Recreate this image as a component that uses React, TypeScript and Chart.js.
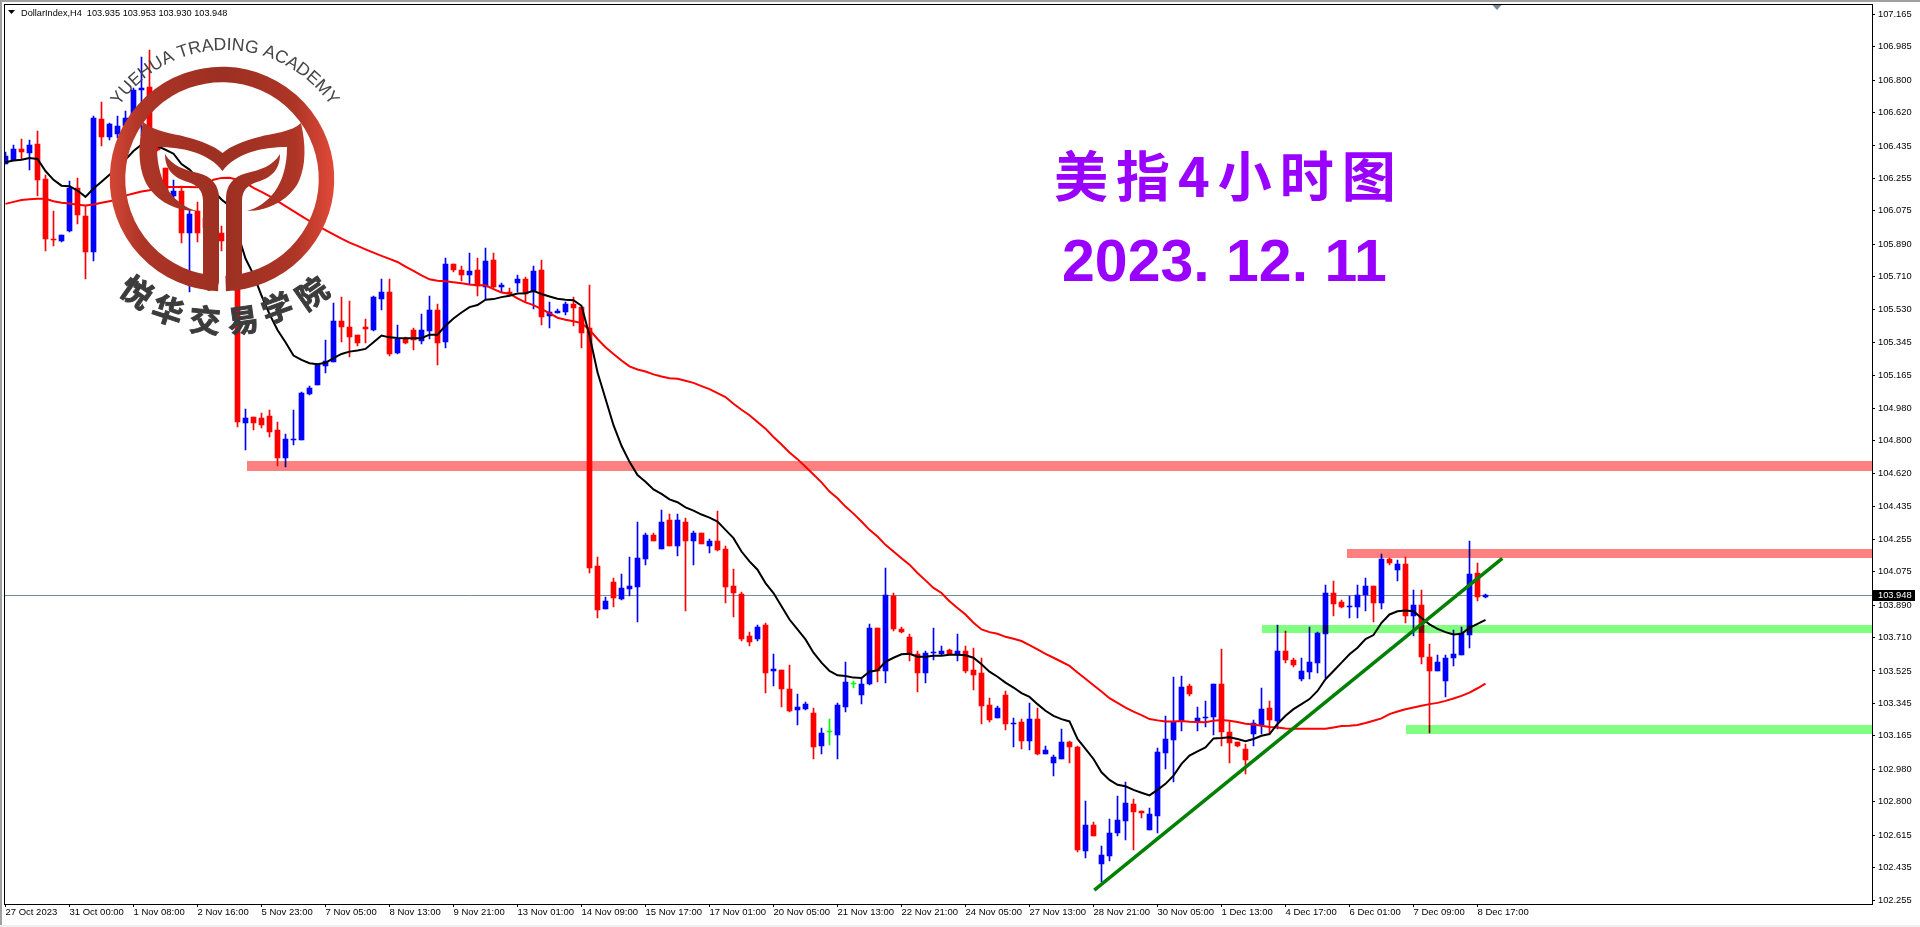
import React, { useEffect, useRef } from "react";
import Chart from "chart.js/auto";

const chartLabel = "DollarIndex,H4  103.935 103.953 103.930 103.948";
const headlineTitle = "美指4小时图";
const headlineDate = "2023. 12. 11";
const logoLatin = "YUEHUA TRADING ACADEMY";
const logoHan = ["悦", "华", "交", "易", "学", "院"];

const xLabels = ["27 Oct 2023", "31 Oct 00:00", "1 Nov 08:00", "2 Nov 16:00", "5 Nov 23:00", "7 Nov 05:00", "8 Nov 13:00", "9 Nov 21:00", "13 Nov 01:00", "14 Nov 09:00", "15 Nov 17:00", "17 Nov 01:00", "20 Nov 05:00", "21 Nov 13:00", "22 Nov 21:00", "24 Nov 05:00", "27 Nov 13:00", "28 Nov 21:00", "30 Nov 05:00", "1 Dec 13:00", "4 Dec 17:00", "6 Dec 01:00", "7 Dec 09:00", "8 Dec 17:00"];
const yTicks = [107.165, 106.985, 106.8, 106.62, 106.435, 106.255, 106.075, 105.89, 105.71, 105.53, 105.345, 105.165, 104.98, 104.8, 104.62, 104.435, 104.255, 104.075, 103.89, 103.71, 103.525, 103.345, 103.165, 102.98, 102.8, 102.615, 102.435, 102.255];
const lastPrice = 103.948;

const opens = [
106.337,106.359,106.418,106.396,106.446,106.252,105.921,105.910,105.961,106.201,
106.046,105.845,106.584,106.486,106.502,106.545,106.589,106.744,106.760,106.490,
106.313,106.158,106.186,105.954,106.076,106.037,105.943,105.950,105.965,105.899,
104.901,104.933,104.927,104.938,104.861,104.706,104.806,104.806,105.060,105.110,
105.214,105.238,105.463,105.430,105.385,105.430,105.413,105.584,105.628,105.286,
105.363,105.413,105.352,105.408,105.524,105.347,105.783,105.750,105.722,105.750,
105.651,105.805,105.652,105.623,105.678,105.695,105.628,105.750,105.490,105.509,
105.512,105.557,105.540,105.424,104.105,103.867,104.016,103.922,103.978,103.989,
104.143,104.281,104.199,104.359,104.215,104.353,104.248,104.287,104.215,104.243,
104.199,103.994,103.950,103.718,103.702,103.779,103.525,103.530,103.425,103.310,
103.315,103.293,103.111,103.185,103.172,103.326,103.453,103.392,103.453,103.762,
103.525,103.939,103.757,103.713,103.619,103.514,103.624,103.619,103.641,103.613,
103.635,103.530,103.514,103.337,103.265,103.392,103.232,103.243,103.138,103.260,
103.067,103.012,103.039,103.133,103.105,102.526,102.669,102.454,102.498,102.625,
102.691,102.785,102.747,102.642,102.719,103.072,103.144,103.249,103.442,103.249,
103.265,103.271,103.453,103.188,103.133,103.094,103.177,103.227,103.321,103.249,
103.635,103.586,103.481,103.519,103.569,103.729,103.956,103.906,103.878,103.878,
103.945,103.994,103.900,104.143,104.083,104.116,103.829,103.889,103.602,103.525,
103.470,103.597,103.613,103.724,104.066,103.935];
const highs = [
106.401,106.440,106.473,106.468,106.517,106.274,106.076,105.943,106.241,106.258,
106.103,106.600,106.677,106.561,106.600,106.628,106.755,106.926,106.965,106.517,
106.313,106.247,106.214,106.081,106.125,106.065,105.998,105.993,105.982,105.943,
104.977,104.933,104.955,104.971,104.905,104.839,104.971,105.071,105.104,105.225,
105.358,105.562,105.595,105.573,105.385,105.474,105.601,105.700,105.700,105.441,
105.374,105.424,105.501,105.601,105.557,105.816,105.783,105.772,105.844,105.816,
105.871,105.844,105.678,105.645,105.717,105.706,105.772,105.805,105.568,105.529,
105.568,105.595,105.540,105.667,104.154,103.933,104.038,104.060,104.154,104.353,
104.287,104.287,104.419,104.397,104.397,104.370,104.303,104.287,104.254,104.414,
104.215,104.088,103.961,103.740,103.779,103.790,103.619,103.530,103.558,103.398,
103.354,103.321,103.210,103.260,103.348,103.575,103.470,103.486,103.784,103.762,
104.094,103.956,103.768,103.729,103.635,103.635,103.762,103.663,103.646,103.729,
103.663,103.652,103.597,103.376,103.332,103.414,103.265,103.260,103.348,103.321,
103.111,103.061,103.205,103.138,103.111,102.802,102.686,102.553,102.702,102.829,
102.912,102.813,102.747,102.763,103.100,103.277,103.492,103.497,103.453,103.326,
103.359,103.453,103.646,103.243,103.133,103.122,103.254,103.431,103.359,103.779,
103.746,103.597,103.597,103.768,103.740,104.000,104.022,103.917,103.939,104.000,
104.038,103.994,104.171,104.149,104.138,104.154,103.972,103.972,103.674,103.613,
103.613,103.751,103.768,104.243,104.121,103.953];
const lows = [
106.335,106.357,106.363,106.302,106.158,105.855,105.882,105.904,105.960,106.004,
105.700,105.800,106.434,106.468,106.479,106.479,106.589,106.490,106.490,106.407,
106.175,106.147,105.899,105.628,105.904,105.965,105.921,105.855,105.882,104.878,
104.752,104.863,104.874,104.822,104.662,104.657,104.780,104.806,105.054,105.110,
105.177,105.236,105.347,105.264,105.325,105.341,105.408,105.525,105.271,105.282,
105.336,105.303,105.336,105.363,105.220,105.314,105.739,105.689,105.667,105.606,
105.584,105.640,105.628,105.601,105.628,105.568,105.529,105.442,105.424,105.507,
105.498,105.435,105.314,104.068,103.818,103.867,103.878,103.917,103.939,103.795,
104.110,104.243,104.199,104.215,104.160,103.856,104.110,104.226,104.177,104.188,
103.900,103.823,103.691,103.663,103.691,103.403,103.442,103.326,103.299,103.227,
103.310,103.039,103.067,103.116,103.039,103.299,103.431,103.343,103.448,103.464,
103.459,103.746,103.735,103.580,103.409,103.459,103.586,103.613,103.613,103.580,
103.514,103.420,103.232,103.243,103.265,103.199,103.105,103.094,103.089,103.061,
103.067,102.945,103.039,103.017,102.520,102.487,102.608,102.354,102.470,102.608,
102.586,102.531,102.708,102.642,102.625,102.984,102.907,103.194,103.387,103.194,
103.216,103.172,103.111,103.017,103.105,102.951,103.111,103.177,103.177,103.205,
103.569,103.547,103.470,103.481,103.514,103.486,103.829,103.873,103.818,103.818,
103.856,103.795,103.867,104.110,104.022,103.790,103.718,103.564,103.183,103.525,
103.381,103.553,103.613,103.652,103.911,103.930];
const closes = [
106.381,106.418,106.403,106.440,106.248,105.917,105.912,105.941,106.203,106.050,
105.845,106.589,106.486,106.556,106.545,106.589,106.744,106.755,106.523,106.412,
106.186,106.186,105.954,106.059,105.954,105.982,105.982,105.906,105.899,104.905,
104.927,104.900,104.890,104.850,104.706,104.811,104.812,105.065,105.093,105.222,
105.242,105.463,105.430,105.374,105.341,105.419,105.595,105.628,105.282,105.363,
105.341,105.358,105.413,105.524,105.341,105.783,105.750,105.717,105.744,105.656,
105.800,105.651,105.663,105.616,105.695,105.617,105.744,105.485,105.512,105.518,
105.557,105.535,105.397,104.095,103.862,103.911,103.928,103.983,103.994,104.149,
104.281,104.248,104.353,104.215,104.359,104.248,104.292,104.226,104.243,104.193,
103.989,103.956,103.702,103.685,103.768,103.514,103.536,103.425,103.304,103.326,
103.343,103.105,103.183,103.185,103.337,103.464,103.453,103.453,103.762,103.525,
103.945,103.757,103.740,103.619,103.514,103.624,103.630,103.635,103.619,103.635,
103.525,103.503,103.332,103.254,103.321,103.232,103.238,103.138,103.260,103.067,
103.089,103.050,103.133,103.105,102.531,102.669,102.608,102.504,102.625,102.697,
102.791,102.741,102.736,102.730,103.078,103.150,103.243,103.437,103.398,103.265,
103.271,103.453,103.188,103.127,103.111,103.034,103.238,103.315,103.254,103.635,
103.586,103.558,103.525,103.575,103.735,103.956,103.895,103.878,103.884,103.945,
103.994,103.900,104.143,104.121,104.116,103.829,103.889,103.602,103.525,103.575,
103.597,103.619,103.735,104.060,103.933,103.948];

const maFast = [
106.345,106.354,106.359,106.368,106.363,106.296,106.247,106.215,106.212,106.188,
106.153,106.199,106.236,106.276,106.313,106.359,106.407,106.442,106.457,106.434,
106.414,106.392,106.335,106.304,106.258,106.214,106.186,106.138,106.103,105.954,
105.811,105.722,105.606,105.503,105.415,105.347,105.273,105.249,105.231,105.225,
105.233,105.259,105.282,105.295,105.301,105.310,105.347,105.384,105.374,105.371,
105.369,105.369,105.369,105.389,105.389,105.439,105.479,105.512,105.542,105.553,
105.583,105.586,105.597,105.605,105.617,105.619,105.632,105.614,105.601,105.588,
105.583,105.580,105.549,105.384,105.181,105.034,104.887,104.773,104.684,104.611,
104.574,104.531,104.506,104.476,104.460,104.432,104.414,104.392,104.375,104.353,
104.307,104.261,104.187,104.132,104.086,104.012,103.957,103.884,103.810,103.755,
103.700,103.626,103.571,103.525,103.501,103.497,103.488,103.486,103.521,103.529,
103.576,103.598,103.617,103.620,103.604,103.604,103.609,103.609,103.615,103.615,
103.612,103.598,103.562,103.521,103.493,103.460,103.433,103.402,103.381,103.341,
103.304,103.276,103.258,103.245,103.148,103.093,103.037,102.963,102.921,102.894,
102.886,102.866,102.850,102.835,102.866,102.899,102.945,103.010,103.056,103.079,
103.101,103.151,103.153,103.157,103.148,103.135,103.148,103.166,103.175,103.231,
103.276,103.313,103.341,103.369,103.414,103.479,103.525,103.571,103.617,103.654,
103.702,103.724,103.792,103.838,103.856,103.860,103.856,103.819,103.783,103.758,
103.740,103.727,103.731,103.764,103.786,103.808];
const maSlow = [
106.114,106.125,106.135,106.140,106.143,106.142,106.129,106.120,106.116,106.109,
106.105,106.110,106.120,106.129,106.138,106.160,106.171,106.182,106.190,106.201,
106.208,106.208,106.208,106.208,106.206,106.221,106.248,106.258,106.259,106.248,
106.230,106.203,106.181,106.157,106.129,106.102,106.074,106.046,106.019,105.994,
105.969,105.945,105.921,105.899,105.881,105.862,105.844,105.826,105.809,105.792,
105.766,105.743,105.718,105.696,105.688,105.685,105.680,105.674,105.667,105.663,
105.663,105.641,105.623,105.616,105.590,105.568,105.553,105.531,105.509,105.483,
105.472,105.463,105.453,105.417,105.365,105.319,105.282,105.246,105.213,105.196,
105.185,105.169,105.157,105.148,105.144,105.133,105.122,105.104,105.087,105.065,
105.043,105.006,104.973,104.942,104.905,104.868,104.822,104.780,104.736,104.699,
104.657,104.614,104.570,104.519,104.482,104.436,104.397,104.353,104.307,104.270,
104.224,104.187,104.150,104.114,104.068,104.027,103.985,103.957,103.911,103.874,
103.838,103.792,103.755,103.740,103.731,103.714,103.703,103.691,103.668,103.645,
103.620,103.598,103.576,103.553,103.516,103.482,103.446,103.411,103.374,103.348,
103.322,103.299,103.280,103.258,103.251,103.245,103.245,103.247,103.243,103.242,
103.240,103.249,103.253,103.249,103.242,103.232,103.228,103.221,103.214,103.212,
103.206,103.205,103.205,103.205,103.205,103.205,103.212,103.220,103.221,103.225,
103.236,103.249,103.262,103.286,103.300,103.313,103.322,103.332,103.341,103.348,
103.359,103.372,103.387,103.405,103.429,103.455];

const zoneStarts = [30.2, 167.7, 157, 175];
const zoneHighs = [104.69, 104.199, 103.779, 103.227];
const zoneLows = [104.635, 104.15, 103.735, 103.177];
const zoneColors = ["#ff8080", "#ff8080", "#80ff80", "#80ff80"];
const trendX = [136.1, 187.1];
const trendY = [102.31, 104.149];

const SCALE_X_MIN = -0.0625;
const SCALE_X_MAX = SCALE_X_MIN + 1867 / 8;
const SCALE_Y_MIN = 102.2331;
const SCALE_Y_MAX = 107.1965;

function candleColor(i: number) {
  if (opens[i] === closes[i]) return "#00ff00";
  return closes[i] > opens[i] ? "#0000ff" : "#ff0000";
}

function drawLogo(ctx: CanvasRenderingContext2D) {
  ctx.save();
  const grad = ctx.createLinearGradient(110, 0, 335, 0);
  grad.addColorStop(0, "#d44636");
  grad.addColorStop(0.14, "#ad3526");
  grad.addColorStop(0.5, "#9c3022");
  grad.addColorStop(0.82, "#ad3526");
  grad.addColorStop(1, "#e24a39");
  ctx.strokeStyle = grad;
  ctx.lineWidth = 15.5;
  const gap = 0.035;
  ctx.beginPath();
  ctx.arc(222, 179, 104.5, Math.PI / 2 + gap, Math.PI / 2 - gap);
  ctx.stroke();

  ctx.fillStyle = grad;
  ctx.beginPath();
  ctx.moveTo(143, 122);
  ctx.bezierCurveTo(155, 132, 172, 133, 186, 137);
  ctx.bezierCurveTo(202, 141, 214, 146, 222.5, 153);
  ctx.bezierCurveTo(231, 146, 243, 141, 259, 137);
  ctx.bezierCurveTo(273, 133, 292, 132, 301, 123);
  ctx.bezierCurveTo(306, 145, 306, 165, 299, 181);
  ctx.bezierCurveTo(291, 198, 270, 211, 247, 211);
  ctx.bezierCurveTo(268, 205, 287, 186, 287, 147);
  ctx.bezierCurveTo(262, 147, 236, 153, 222.5, 171);
  ctx.bezierCurveTo(209, 153, 183, 147, 157, 147);
  ctx.bezierCurveTo(157, 186, 176, 205, 197, 211);
  ctx.bezierCurveTo(172, 211, 153, 198, 145, 181);
  ctx.bezierCurveTo(138, 165, 138, 145, 143, 122);
  ctx.closePath();
  ctx.fill();

  ctx.beginPath();
  ctx.moveTo(165, 154);
  ctx.bezierCurveTo(172, 166, 185, 170, 198, 173);
  ctx.bezierCurveTo(212, 176, 219, 186, 219, 198);
  ctx.lineTo(219, 281);
  ctx.bezierCurveTo(219, 287, 213, 291, 208, 291);
  ctx.bezierCurveTo(205, 288, 200, 282, 203, 275);
  ctx.lineTo(203, 201);
  ctx.bezierCurveTo(203, 190, 197, 185, 188, 182);
  ctx.bezierCurveTo(174, 178, 165, 170, 165, 154);
  ctx.closePath();
  ctx.fill();

  ctx.beginPath();
  ctx.moveTo(280, 154);
  ctx.bezierCurveTo(273, 166, 260, 170, 247, 173);
  ctx.bezierCurveTo(233, 176, 226, 186, 226, 198);
  ctx.lineTo(226, 281);
  ctx.bezierCurveTo(226, 287, 232, 291, 237, 291);
  ctx.bezierCurveTo(240, 288, 245, 282, 242, 275);
  ctx.lineTo(242, 201);
  ctx.bezierCurveTo(242, 190, 248, 185, 257, 182);
  ctx.bezierCurveTo(271, 178, 280, 170, 280, 154);
  ctx.closePath();
  ctx.fill();

  ctx.fillStyle = "#444444";
  ctx.font = '17.6px "Liberation Sans"';
  ctx.textAlign = "center";
  ctx.textBaseline = "alphabetic";
  const chars = logoLatin.split("");
  const widths = chars.map((c) => ctx.measureText(c).width);
  const total = widths.reduce((a, b) => a + b, 0);
  const radius = 128;
  let used = 0;
  chars.forEach((c, i) => {
    const a = (used + widths[i] / 2 - total / 2) / radius;
    used += widths[i];
    ctx.save();
    ctx.translate(225 + radius * Math.sin(a), 178 - radius * Math.cos(a));
    ctx.rotate(a);
    ctx.fillText(c, 0, 0);
    ctx.restore();
  });

  const hanX = [137, 168, 205, 243, 277, 312];
  const hanY = [292, 310, 320, 320, 308, 293];
  const hanRot = [35, 18, 5, -8, -20, -35];
  ctx.fillStyle = "#3c3c3c";
  ctx.strokeStyle = "#3c3c3c";
  ctx.lineWidth = 1;
  ctx.font = 'bold 31px "Noto Sans CJK SC"';
  ctx.textBaseline = "middle";
  logoHan.forEach((c, i) => {
    ctx.save();
    ctx.translate(hanX[i], hanY[i]);
    ctx.rotate((hanRot[i] * Math.PI) / 180);
    ctx.fillText(c, 0, 0);
    ctx.strokeText(c, 0, 0);
    ctx.restore();
  });
  ctx.restore();
}

const mt4Plugin = {
  id: "mt4",
  afterDatasetsUpdate(chart: any) {
    // whole-pixel candle edges, as a terminal chart draws them
    chart.getSortedVisibleDatasetMetas().forEach((meta: any) => {
      if (meta.type !== "bar") return;
      meta.data.forEach((el: any) => {
        const a = Math.round(Math.min(el.y, el.base));
        let b = Math.round(Math.max(el.y, el.base));
        if (b <= a) b = a + 1;
        el.y = a;
        el.base = b;
      });
    });
  },
  beforeDraw(chart: any) {
    const { ctx, width, height } = chart;
    ctx.save();
    ctx.fillStyle = "#ffffff";
    ctx.fillRect(0, 0, width, height);
    ctx.fillStyle = "#a0a0a0";
    ctx.fillRect(0, 0, width, 2);
    ctx.fillRect(0, 0, 2, height);
    ctx.fillStyle = "#f0f0f0";
    ctx.fillRect(0, 925, width, 2);
    ctx.restore();
  },
  beforeDatasetsDraw(chart: any) {
    const { ctx, chartArea, scales } = chart;
    const y = Math.ceil(scales.y.getPixelForValue(lastPrice)) + 0.5;
    ctx.save();
    ctx.strokeStyle = "#778899";
    ctx.lineWidth = 1;
    ctx.beginPath();
    ctx.moveTo(chartArea.left, y);
    ctx.lineTo(chartArea.right, y);
    ctx.stroke();
    ctx.restore();
  },
  beforeDatasetDraw(chart: any, args: any) {
    if (chart.data.datasets[args.index].label !== "Trend") return;
    const { ctx, chartArea, scales } = chart;
    ctx.save();
    ctx.globalCompositeOperation = "multiply";
    zoneStarts.forEach((s, i) => {
      const x0 = Math.round(scales.x.getPixelForValue(s));
      const y0 = Math.round(scales.y.getPixelForValue(zoneHighs[i]));
      const y1 = Math.round(scales.y.getPixelForValue(zoneLows[i]));
      ctx.fillStyle = zoneColors[i];
      ctx.fillRect(x0, y0, chartArea.right - x0, y1 - y0);
    });
    ctx.restore();
  },
  afterDatasetsDraw(chart: any) {
    const { ctx, scales } = chart;
    drawLogo(ctx);
    ctx.save();
    // plot frame
    ctx.strokeStyle = "#000000";
    ctx.lineWidth = 1;
    ctx.strokeRect(4.5, 4.5, 1868, 900);
    // shift marker
    ctx.fillStyle = "#778899";
    ctx.beginPath();
    ctx.moveTo(1492.5, 5);
    ctx.lineTo(1501.5, 5);
    ctx.lineTo(1497, 10);
    ctx.closePath();
    ctx.fill();
    // header
    ctx.fillStyle = "#000000";
    ctx.beginPath();
    ctx.moveTo(8, 10);
    ctx.lineTo(15, 10);
    ctx.lineTo(11.5, 14);
    ctx.closePath();
    ctx.fill();
    ctx.font = '9.2px "Liberation Sans"';
    ctx.textAlign = "left";
    ctx.textBaseline = "middle";
    ctx.fillText(chartLabel, 21, 13);
    // headline
    ctx.fillStyle = "#9900ff";
    ctx.textBaseline = "alphabetic";
    ctx.font = 'bold 54px "Noto Sans CJK SC"';
    (ctx as any).letterSpacing = "8px";
    ctx.fillText(headlineTitle, 1054, 197);
    ctx.font = 'bold 59px "Liberation Sans"';
    (ctx as any).letterSpacing = "0px";
    ctx.fillText(headlineDate, 1062, 281);
    // last price tag
    const py = Math.ceil(scales.y.getPixelForValue(lastPrice));
    ctx.fillStyle = "#000000";
    ctx.fillRect(1873, py - 5, 42, 11);
    ctx.fillStyle = "#ffffff";
    ctx.font = '9.3px "Liberation Sans"';
    ctx.textBaseline = "middle";
    ctx.fillText(lastPrice.toFixed(3), 1878, py + 0.5);
    ctx.restore();
  },
};

export default function App() {
  const ref = useRef<HTMLCanvasElement>(null);
  useEffect(() => {
    const colors = opens.map((_, i) => candleColor(i));
    const chart = new Chart(ref.current!, {
      type: "bar",
      data: {
        datasets: [
          {
            type: "line",
            label: "Trend",
            data: trendX.map((x, i) => ({ x, y: trendY[i] })),
            borderColor: "#008000",
            borderWidth: 3.5,
            pointRadius: 0,
            order: 1,
          },
          {
            type: "line",
            label: "MA fast",
            data: maFast.map((y, x) => ({ x, y })),
            borderColor: "#000000",
            borderWidth: 2,
            pointRadius: 0,
            order: 3,
          },
          {
            type: "line",
            label: "MA slow",
            data: maSlow.map((y, x) => ({ x, y })),
            borderColor: "#ff0000",
            borderWidth: 2,
            pointRadius: 0,
            order: 4,
          },
          {
            type: "bar",
            label: "Body",
            data: opens.map((o, x) => ({ x, y: [o, closes[x]] })),
            backgroundColor: colors,
            barThickness: 5,
            minBarLength: 1,
            grouped: false,
            order: 5,
          },
          {
            type: "bar",
            label: "Wick",
            data: lows.map((l, x) => ({ x, y: [l, highs[x]] })),
            backgroundColor: colors,
            barThickness: 1,
            grouped: false,
            order: 6,
          },
        ],
      } as any,
      options: {
        animation: false,
        responsive: false,
        devicePixelRatio: 1,
        events: [],
        layout: { autoPadding: false, padding: { left: 5, top: 5, right: 0, bottom: 0 } },
        plugins: { legend: { display: false }, tooltip: { enabled: false } },
        scales: {
          x: {
            type: "linear",
            min: SCALE_X_MIN,
            max: SCALE_X_MAX,
            offset: false,
            border: { display: false },
            grid: { drawOnChartArea: false, drawTicks: true, tickLength: 3, tickColor: "#000000", offset: false },
            afterBuildTicks: (s: any) => {
              s.ticks = xLabels.map((_, i) => ({ value: i * 8 }));
            },
            afterFit: (s: any) => {
              s.height = 23;
            },
            ticks: {
              autoSkip: false,
              maxRotation: 0,
              align: "start",
              padding: 0,
              color: "#000000",
              font: { family: "Liberation Sans", size: 9.5 },
              callback: (v: any) => xLabels[Math.round(Number(v) / 8)],
            },
          },
          y: {
            type: "linear",
            position: "right",
            min: SCALE_Y_MIN,
            max: SCALE_Y_MAX,
            border: { display: false },
            grid: { drawOnChartArea: false, drawTicks: true, tickLength: 3, tickColor: "#000000" },
            afterBuildTicks: (s: any) => {
              s.ticks = yTicks.map((value) => ({ value }));
            },
            afterFit: (s: any) => {
              s.width = 48;
            },
            ticks: {
              autoSkip: false,
              padding: 3,
              color: "#000000",
              font: { family: "Liberation Sans", size: 9.3 },
              callback: (v: any) => Number(v).toFixed(3),
            },
          },
        },
      } as any,
      plugins: [mt4Plugin as any],
    });
    return () => chart.destroy();
  }, []);
  return (
    <div style={{ position: "absolute", left: 0, top: 0, width: 1920, height: 927, overflow: "hidden" }}>
      <canvas ref={ref} width={1920} height={927} style={{ display: "block" }} />
    </div>
  );
}
